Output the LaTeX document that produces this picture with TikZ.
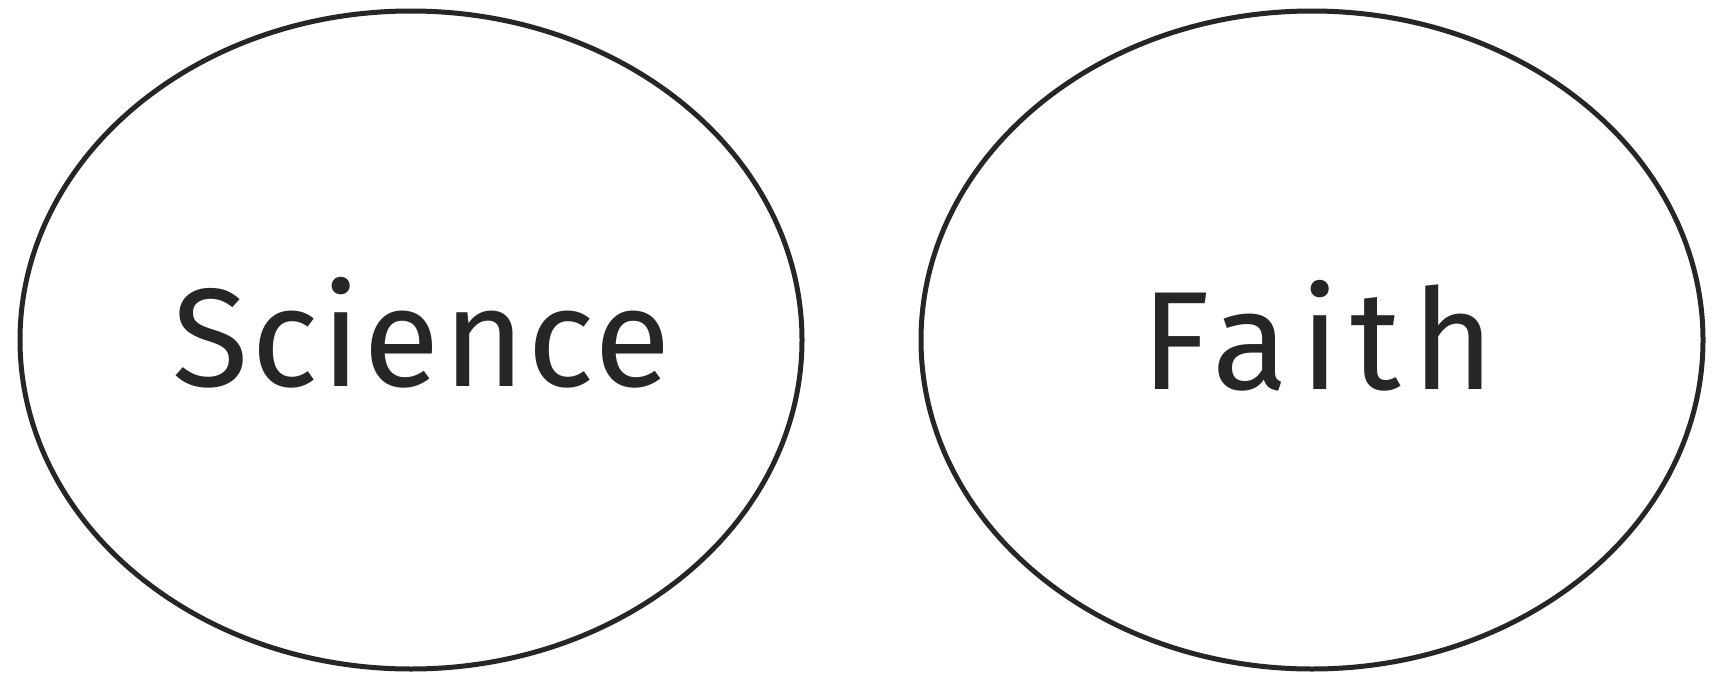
\documentclass[tikz,border=0pt]{standalone}
\usepackage{fontspec}
\setmainfont{Fira Sans}
\begin{document}
\begin{tikzpicture}[x=1pt,y=-1pt,
  circ/.style={draw=black!85,line width=5pt},
  lbl/.style={font=\fontsize{140}{150}\selectfont\addfontfeature{LetterSpace=2}, text=black!85}]
\useasboundingbox[fill=white] (0,0) rectangle (1729,677);
\draw[circ] (411,340) ellipse [x radius=391, y radius=329];
\draw[circ] (1312,340) ellipse [x radius=391, y radius=329];
\node[lbl] (science) at (422,333) {Science};
\node[lbl,font=\fontsize{140}{150}\selectfont\addfontfeature{LetterSpace=8}] (faith) at (1318,336) {Faith};
\end{tikzpicture}
\end{document}
